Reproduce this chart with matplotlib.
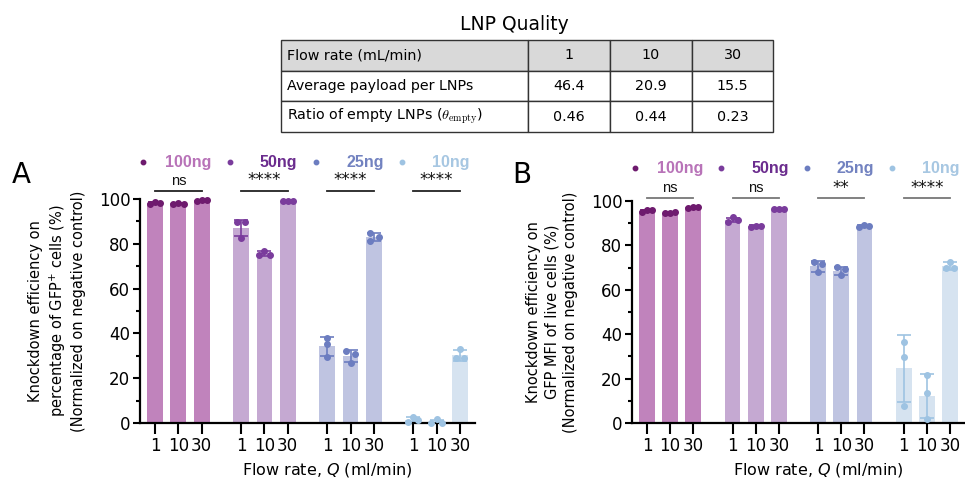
import numpy as np
import matplotlib
matplotlib.use("Agg")
import matplotlib.pyplot as plt

# ---- data ----
doses = ["100ng", "50ng", "25ng", "10ng"]
flow_labels = ["1", "10", "30"]

# panel A: knockdown on % GFP+ cells
gfp_mean = [[98.1, 98.0, 99.4], [87.0, 75.7, 99.0], [34.3, 30.0, 83.1], [1.5, 0.5, 30.2]]
gfp_sd = [[0.4, 0.3, 0.3], [3.7, 1.1, 0.1], [4.2, 2.7, 1.9], [1.1, 0.9, 2.3]]
gfp_pts = [
    [[97.7, 98.6, 98.2], [97.7, 98.3, 97.8], [99.2, 99.6, 99.6]],
    [[89.6, 82.6, 89.8], [74.8, 77.0, 75.1], [99.0, 99.1, 99.0]],
    [[37.9, 35.3, 29.6], [32.3, 27.0, 30.8], [85.0, 81.3, 83.0]],
    [[0.6, 2.8, 1.3], [0.0, 1.6, 0.0], [28.9, 32.9, 28.9]],
]
gfp_sig = ["ns", "****", "****", "****"]

# panel B: knockdown on GFP MFI of live cells
mfi_mean = [[95.5, 94.8, 97.2], [91.5, 88.7, 96.3], [70.5, 68.6, 88.8], [24.7, 12.2, 70.6]]
mfi_sd = [[0.4, 0.1, 0.2], [1.0, 0.3, 0.1], [2.3, 1.8, 0.4], [15.1, 10.0, 1.7]]
mfi_pts = [
    [[95.0, 95.8, 95.8], [94.8, 94.8, 94.9], [97.0, 97.4, 97.3]],
    [[90.5, 92.6, 91.4], [88.5, 88.9, 88.7], [96.3, 96.4, 96.3]],
    [[72.4, 67.9, 71.6], [70.1, 66.7, 69.2], [88.4, 89.2, 88.8]],
    [[7.7, 29.9, 36.6], [1.7, 13.4, 21.6], [69.7, 72.7, 69.7]],
]
mfi_sig = ["ns", "ns", "**", "****"]

table_title = "LNP Quality"
table_rows = [
    ["Flow rate (mL/min)", "1", "10", "30"],
    ["Average payload per LNPs", "46.4", "20.9", "15.5"],
    [r"Ratio of empty LNPs ($\theta_{\mathrm{empty}}$)", "0.46", "0.44", "0.23"],
]

bar_colors = ["#C083BC", "#C5A9D2", "#BFC4E1", "#D6E3F0"]
dot_colors = ["#6E1A6E", "#7A3C9C", "#6C7DC0", "#9EC3E2"]
legend_text_colors = ["#B873B8", "#6B2C8E", "#7282C0", "#A7C7E2"]

group_gap = 3.7
pos = [[g * group_gap + i for i in range(3)] for g in range(len(doses))]


def swarm(vals, thr=2.5, w=0.22):
    # spread points sideways only when they sit close together
    offs = [0.0] * len(vals)
    close = [[j for j in range(len(vals)) if abs(vals[i] - vals[j]) < thr] for i in range(len(vals))]
    for i in range(len(vals)):
        grp = close[i]
        if len(grp) == 2:
            offs[i] = -0.18 if grp.index(i) == 0 else 0.18
        elif len(grp) >= 3:
            offs[i] = [-w, 0, w][grp.index(i)]
    return offs


def panel(ax, means, sds, pts, sigs, ylabel, sig_y, sig_col, leg_y):
    for g in range(len(doses)):
        xs = pos[g]
        ax.bar(xs, means[g], width=0.68, color=bar_colors[g], zorder=1)
        ax.errorbar(xs, means[g], yerr=sds[g], fmt="none", ecolor=dot_colors[g],
                    elinewidth=1.2, capsize=5, capthick=1.2, zorder=2)
        for i in range(3):
            off = swarm(pts[g][i])
            ax.plot(np.array(off) + xs[i], pts[g][i], "o", ms=4, color=dot_colors[g],
                    zorder=3, clip_on=False)
        # significance bracket
        ax.plot([xs[0], xs[2]], [sig_y, sig_y], color=sig_col, lw=1.3, clip_on=False)
        if sigs[g] == "ns":
            ax.text(xs[1], sig_y + 1.5, sigs[g], ha="center", va="bottom", fontsize=10.5,
                    family="Liberation Sans", color="#111111")
        else:
            ax.text(xs[1], sig_y + 0.8, sigs[g], ha="center", va="bottom", fontsize=12,
                    color="#111111")
        # colored legend entry
        ax.plot([xs[0] - 0.5], [leg_y], "o", ms=3.2, color=dot_colors[g], clip_on=False)
        ax.text(xs[2] + 0.42, leg_y, doses[g], ha="right", va="center", fontsize=11.5,
                fontweight="bold", family="Liberation Sans", color=legend_text_colors[g])

    ax.set_xlim(-0.65, 13.75)
    ax.set_ylim(0, 100)
    ax.set_xticks([x for xs in pos for x in xs])
    ax.set_xticklabels(flow_labels * len(doses), fontsize=12)
    ax.set_yticks([0, 20, 40, 60, 80, 100])
    ax.set_yticks([10, 30, 50, 70, 90], minor=True)
    ax.tick_params(axis="y", labelsize=12, length=5, width=1.5, pad=2)
    ax.tick_params(axis="y", which="minor", length=3, width=1.5)
    ax.tick_params(axis="x", length=8, width=1.5, pad=2)
    for s in ["top", "right"]:
        ax.spines[s].set_visible(False)
    for s in ["left", "bottom"]:
        ax.spines[s].set_linewidth(1.6)
    ax.set_ylabel(ylabel, fontsize=10.5, linespacing=1.3, labelpad=9)
    ax.set_xlabel("Flow rate, $Q$ (ml/min)", fontsize=11.5)
    ax.xaxis.set_label_coords(0.56, -0.17)


fig = plt.figure(figsize=(9.65, 4.83), dpi=100)

axA = fig.add_axes([140 / 965, 1 - 423 / 483, 335 / 965, 224 / 483])
panel(axA, gfp_mean, gfp_sd, gfp_pts, gfp_sig,
      "Knockdown efficiency on\npercentage of GFP$^{+}$ cells (%)\n(Normalized on negative control)",
      103.6, "#222222", 116.5)

axB = fig.add_axes([632 / 965, 1 - 423 / 483, 333 / 965, 222 / 483])
panel(axB, mfi_mean, mfi_sd, mfi_pts, mfi_sig,
      "Knockdown efficiency on\nGFP MFI of live cells (%)\n(Normalized on negative control)",
      101.2, "#777777", 114.8)

fig.text(12 / 965, 1 - 183 / 483, "A", fontsize=20, ha="left", va="baseline")
fig.text(512 / 965, 1 - 183 / 483, "B", fontsize=20, ha="left", va="baseline")

# LNP quality table
fig.text(514 / 965, 1 - 25 / 483, table_title, fontsize=13.5, ha="center", va="center")
axT = fig.add_axes([281 / 965, 1 - 132 / 483, 492 / 965, 92 / 483])
axT.axis("off")
col_w = np.array([247, 82, 82, 81]) / 492
tbl = axT.table(cellText=table_rows, colWidths=col_w, cellLoc="center", bbox=[0, 0, 1, 1])
tbl.auto_set_font_size(False)
tbl.set_fontsize(10.3)
for (r, c), cell in tbl.get_celld().items():
    cell.set_edgecolor("#333333")
    cell.set_linewidth(1.0)
    if r == 0:
        cell.set_facecolor("#D9D9D9")
    if c == 0:
        cell.PAD = 0.025
        cell.get_text().set_ha("left")
    cell.get_text().set_math_fontfamily("cm")

fig.savefig("out.png", dpi=100)
